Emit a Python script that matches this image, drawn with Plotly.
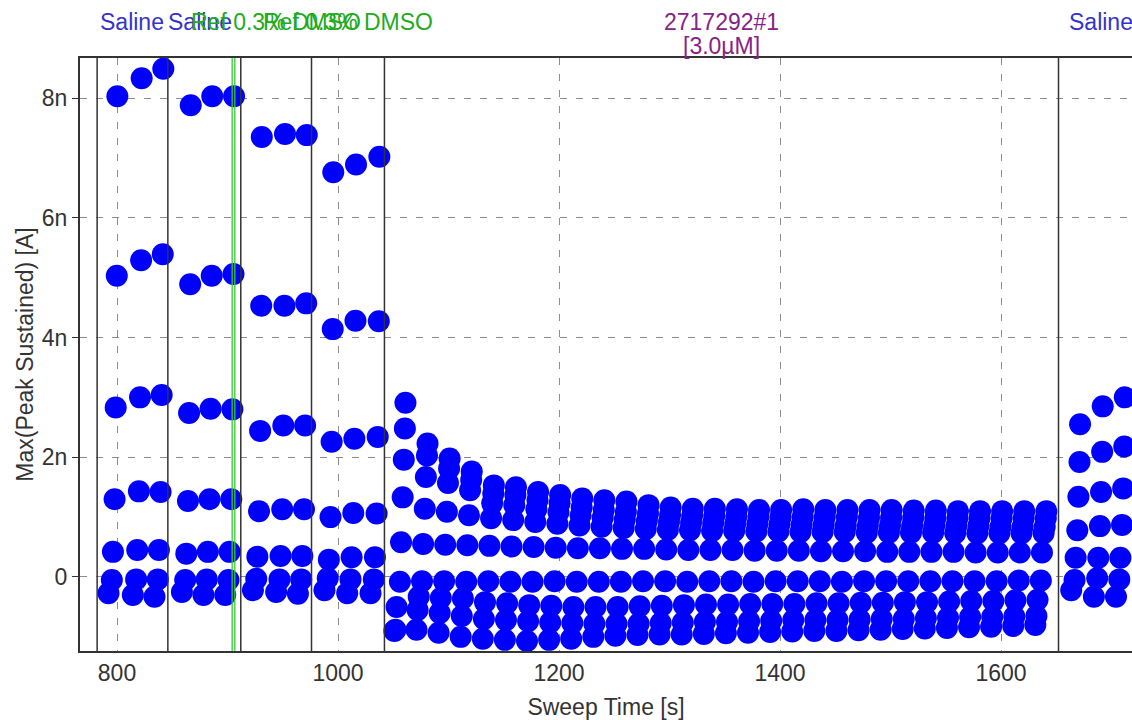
import plotly.graph_objects as go

# ---------------- data ----------------
# sweep times [s]: 12 pre-compound sweeps, 30 compound sweeps, 3 wash sweeps
sweep_time = [800.3, 822.3, 841.9, 866.7, 886.2, 905.9, 931.0, 952.0, 971.7, 995.7, 1016.3, 1037.4,
              1061, 1081, 1101, 1121, 1141, 1161, 1181, 1201, 1221, 1241, 1261, 1281, 1301, 1321, 1341,
              1361, 1381, 1401, 1421, 1441, 1461, 1481, 1501, 1521, 1541, 1561, 1581, 1601, 1621, 1641,
              1671.5, 1692.0, 1712.0]

# time offset of each level within a sweep [s]
level_offset = [0, -0.5, -1.5, -2.5, -4, -5, -8, -9, -10]

# Max(Peak Sustained) values, nA
level_1 = [8.03, 8.33, 8.49, 7.88, 8.03, 8.03, 7.35, 7.40, 7.38, 6.76, 6.89, 7.02,
           2.91, 2.23, 1.98, 1.76, 1.53, 1.50, 1.42, 1.37, 1.31, 1.28, 1.26, 1.20, 1.16, 1.14, 1.14,
           1.13, 1.12, 1.12, 1.13, 1.12, 1.12, 1.12, 1.12, 1.11, 1.11, 1.10, 1.10, 1.10, 1.10, 1.10,
           2.55, 2.85, 3.00]
level_2 = [5.03, 5.29, 5.39, 4.89, 5.03, 5.06, 4.53, 4.53, 4.57, 4.14, 4.28, 4.27,
           2.48, 2.03, 1.81, 1.62, 1.39, 1.37, 1.28, 1.23, 1.16, 1.12, 1.09, 1.06, 1.04, 1.03, 1.02,
           1.01, 1.01, 1.00, 1.00, 1.00, 1.00, 0.99, 0.99, 0.99, 0.98, 0.98, 0.98, 0.98, 0.98, 0.98,
           1.92, 2.09, 2.18]
level_3 = [2.83, 3.00, 3.04, 2.74, 2.81, 2.80, 2.44, 2.53, 2.53, 2.26, 2.31, 2.34,
           1.96, 1.67, 1.57, 1.45, 1.23, 1.20, 1.13, 1.08, 1.03, 0.99, 0.96, 0.94, 0.92, 0.91, 0.90,
           0.89, 0.88, 0.88, 0.87, 0.87, 0.86, 0.86, 0.86, 0.85, 0.85, 0.85, 0.85, 0.84, 0.84, 0.84,
           1.34, 1.42, 1.48]
level_4 = [1.30, 1.43, 1.42, 1.27, 1.30, 1.30, 1.10, 1.13, 1.13, 1.00, 1.07, 1.06,
           1.33, 1.14, 1.09, 1.03, 0.98, 0.95, 0.92, 0.89, 0.86, 0.84, 0.82, 0.80, 0.79, 0.78, 0.77,
           0.77, 0.76, 0.76, 0.75, 0.75, 0.75, 0.74, 0.74, 0.74, 0.74, 0.73, 0.73, 0.73, 0.73, 0.73,
           0.78, 0.85, 0.87]
level_5 = [0.42, 0.45, 0.45, 0.39, 0.42, 0.42, 0.34, 0.35, 0.35, 0.29, 0.33, 0.33,
           0.58, 0.55, 0.54, 0.53, 0.52, 0.51, 0.50, 0.49, 0.48, 0.48, 0.47, 0.47, 0.46, 0.45, 0.45,
           0.45, 0.44, 0.44, 0.44, 0.43, 0.43, 0.43, 0.42, 0.42, 0.42, 0.42, 0.41, 0.41, 0.41, 0.41,
           0.32, 0.32, 0.32]
level_6 = [-0.05, -0.04, -0.04, -0.05, -0.04, -0.05, -0.03, -0.04, -0.04, -0.02, -0.04, -0.04,
           -0.08, -0.07, -0.07, -0.08, -0.07, -0.08, -0.08, -0.07, -0.08, -0.08, -0.08, -0.07, -0.07,
           -0.08, -0.07, -0.07, -0.08, -0.07, -0.07, -0.07, -0.08, -0.07, -0.07, -0.07, -0.07, -0.07,
           -0.07, -0.07, -0.06, -0.06,
           -0.05, -0.02, -0.04]
level_7 = [-0.27, -0.30, -0.33, -0.25, -0.30, -0.30, -0.22, -0.25, -0.28, -0.22, -0.27, -0.27,
           -0.50, -0.33, -0.35, -0.36, -0.42, -0.44, -0.47, -0.48, -0.50, -0.50, -0.50, -0.49, -0.48,
           -0.47, -0.46, -0.46, -0.45, -0.45, -0.45, -0.44, -0.44, -0.43, -0.43, -0.42, -0.42, -0.41,
           -0.40, -0.40, -0.39, -0.38,
           -0.22, -0.33, -0.33]
level_8 = [None] * 12 + [
           -0.88, -0.55, -0.60, -0.65, -0.70, -0.72, -0.74, -0.76, -0.77, -0.78, -0.78, -0.78, -0.77,
           -0.76, -0.75, -0.75, -0.74, -0.73, -0.72, -0.72, -0.72, -0.71, -0.70, -0.70, -0.69, -0.68,
           -0.67, -0.67, -0.66, -0.65] + [None] * 3
level_9 = [None] * 12 + [
           -0.90, -0.88, -0.93, -1.00, -1.03, -1.05, -1.07, -1.05, -1.03, -1.00, -0.98, -0.97, -0.96,
           -0.96, -0.95, -0.94, -0.93, -0.92, -0.91, -0.90, -0.90, -0.89, -0.88, -0.87, -0.86, -0.85,
           -0.84, -0.83, -0.82, -0.80] + [None] * 3

# event markers (s) and their labels
event_lines = [782, 846, 912, 976, 1042, 1652]
green_lines = [904.2, 906.6]
label_x = [814, 875.5, 944, 1009, 1347, 1690]
label_text = ["Saline", "Saline", "Ref 0.3% DMSO", "Ref 0.3% DMSO", "2717292#1", "Saline"]
label_color = ["#3333cc", "#3333cc", "#22aa22", "#22aa22", "#882288", "#3333cc"]
sub_label_x = 1347
sub_label_text = "[3.0\u00b5M]"

# ---------------- figure ----------------
levels = [level_1, level_2, level_3, level_4, level_5, level_6, level_7, level_8, level_9]
fig = go.Figure()
for lv, off in zip(levels, level_offset):
    xs, ys = [], []
    for t, v in zip(sweep_time, lv):
        if v is None:
            continue
        xs.append(t + off)
        ys.append(v * 1e-9)
    fig.add_trace(go.Scatter(x=xs, y=ys, mode="markers",
                             marker=dict(color="#0000ff", size=22, line=dict(width=0)),
                             showlegend=False, hoverinfo="skip"))

shapes = []
for xv in event_lines:
    shapes.append(dict(type="line", xref="x", yref="paper", x0=xv, x1=xv, y0=0, y1=1,
                       line=dict(color="#333333", width=1.5), layer="above"))
for xv in green_lines:
    shapes.append(dict(type="line", xref="x", yref="paper", x0=xv, x1=xv, y0=0, y1=1,
                       line=dict(color="#33cc33", width=1.3), layer="above"))

font_family = "Liberation Sans, Arial, sans-serif"
fs = 23
annotations = []
for xv, txt, col in zip(label_x, label_text, label_color):
    annotations.append(dict(x=xv, y=1, xref="x", yref="paper", text=txt, showarrow=False,
                            yanchor="middle", yshift=36, font=dict(size=fs, color=col, family=font_family)))
annotations.append(dict(x=sub_label_x, y=1, xref="x", yref="paper", text=sub_label_text, showarrow=False,
                        yanchor="middle", yshift=12, font=dict(size=fs, color="#882288", family=font_family)))

fig.update_layout(
    width=1132, height=720,
    margin=dict(l=80, r=0, t=58, b=69),
    paper_bgcolor="white", plot_bgcolor="white",
    font=dict(family=font_family, size=fs, color="#333333"),
    shapes=shapes, annotations=annotations,
    xaxis=dict(range=[766.5, 1718.5], tickvals=[800, 1000, 1200, 1400, 1600],
               showgrid=True, gridcolor="#8c8c8c", griddash="7px,9px", gridwidth=1.2,
               showline=True, linecolor="#333333", linewidth=2, mirror=True,
               ticks="", zeroline=False,
               title=dict(text="Sweep Time [s]", standoff=14, font=dict(size=fs))),
    yaxis=dict(range=[-1.236e-9, 8.668e-9], tickvals=[0, 2e-9, 4e-9, 6e-9, 8e-9],
               exponentformat="SI",
               showgrid=True, gridcolor="#8c8c8c", griddash="7px,9px", gridwidth=1.2,
               showline=True, linecolor="#333333", linewidth=2, mirror=False,
               ticks="outside", ticklen=6, tickcolor="#333333", zeroline=False,
               title=dict(text="Max(Peak Sustained) [A]", standoff=2, font=dict(size=fs))),
)

fig.write_html("out.html")
